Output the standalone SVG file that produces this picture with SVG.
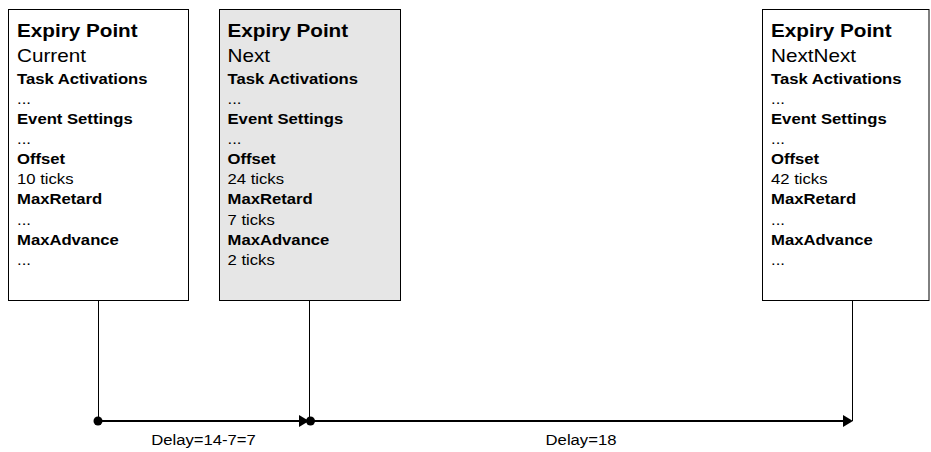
<svg xmlns="http://www.w3.org/2000/svg" width="931" height="452" viewBox="0 0 931 452">
  <style>
    .box { stroke: #000; stroke-width: 1; }
    .title { font-family: "Liberation Sans", Arial, sans-serif; font-size: 18px; font-weight: bold; fill: #000; }
    .name { font-family: "Liberation Sans", Arial, sans-serif; font-size: 18px; fill: #000; }
    .label { font-family: "Liberation Sans", Arial, sans-serif; font-size: 14.5px; font-weight: bold; fill: #000; }
    .value { font-family: "Liberation Sans", Arial, sans-serif; font-size: 14.5px; fill: #000; }
    .wire { stroke: #000; stroke-width: 1; fill: none; }
    .axis { stroke: #000; stroke-width: 2; fill: none; }
    .dot { fill: #000; }
  </style>
  <defs>
    <marker id="arrow" markerUnits="userSpaceOnUse" markerWidth="10" markerHeight="12" refX="8" refY="6" orient="auto">
      <path d="M0,0 L10,6 L0,12 z" fill="#000"/>
    </marker>
  </defs>

  <rect width="931" height="452" fill="#fff"/>

  <!-- expiry point: current -->
  <g id="ep-current">
    <rect class="box" x="8.5" y="9.5" width="180" height="291" fill="#fff"/>
    <g transform="translate(17,0) scale(1.15,1)">
      <text class="title" x="0" y="37">Expiry Point</text>
      <text class="name" x="0" y="62">Current</text>
      <text class="label" x="0" y="84">Task Activations</text>
      <text class="value" x="0" y="104">...</text>
      <text class="label" x="0" y="124">Event Settings</text>
      <text class="value" x="0" y="144.5">...</text>
      <text class="label" x="0" y="164.5">Offset</text>
      <text class="value" x="0" y="184.5">10 ticks</text>
      <text class="label" x="0" y="204.5">MaxRetard</text>
      <text class="value" x="0" y="225">...</text>
      <text class="label" x="0" y="245.5">MaxAdvance</text>
      <text class="value" x="0" y="265.5">...</text>
    </g>
  </g>

  <!-- expiry point: next (highlighted) -->
  <g id="ep-next">
    <rect class="box" x="219.5" y="9.5" width="181" height="291" fill="#e6e6e6"/>
    <g transform="translate(227.5,0) scale(1.15,1)">
      <text class="title" x="0" y="37">Expiry Point</text>
      <text class="name" x="0" y="62">Next</text>
      <text class="label" x="0" y="84">Task Activations</text>
      <text class="value" x="0" y="104">...</text>
      <text class="label" x="0" y="124">Event Settings</text>
      <text class="value" x="0" y="144.5">...</text>
      <text class="label" x="0" y="164.5">Offset</text>
      <text class="value" x="0" y="184.5">24 ticks</text>
      <text class="label" x="0" y="204.5">MaxRetard</text>
      <text class="value" x="0" y="225">7 ticks</text>
      <text class="label" x="0" y="245.5">MaxAdvance</text>
      <text class="value" x="0" y="265.5">2 ticks</text>
    </g>
  </g>

  <!-- expiry point: next-next -->
  <g id="ep-nextnext">
    <rect class="box" x="762.5" y="9.5" width="166.5" height="291" fill="#fff"/>
    <g transform="translate(771,0) scale(1.15,1)">
      <text class="title" x="0" y="37">Expiry Point</text>
      <text class="name" x="0" y="62">NextNext</text>
      <text class="label" x="0" y="84">Task Activations</text>
      <text class="value" x="0" y="104">...</text>
      <text class="label" x="0" y="124">Event Settings</text>
      <text class="value" x="0" y="144.5">...</text>
      <text class="label" x="0" y="164.5">Offset</text>
      <text class="value" x="0" y="184.5">42 ticks</text>
      <text class="label" x="0" y="204.5">MaxRetard</text>
      <text class="value" x="0" y="225">...</text>
      <text class="label" x="0" y="245.5">MaxAdvance</text>
      <text class="value" x="0" y="265.5">...</text>
    </g>
  </g>

  <!-- timeline connectors -->
  <g id="connectors">
    <line class="wire" x1="98.5" y1="300.5" x2="98.5" y2="421"/>
    <line class="wire" x1="309.5" y1="300.5" x2="309.5" y2="421"/>
    <line class="wire" x1="852.5" y1="300.5" x2="852.5" y2="421"/>
    <line class="axis" x1="98" y1="421" x2="307" y2="421" marker-end="url(#arrow)"/>
    <line class="axis" x1="310" y1="421" x2="851" y2="421" marker-end="url(#arrow)"/>
    <circle class="dot" cx="98" cy="421" r="4.5"/>
    <circle class="dot" cx="310.5" cy="421" r="4.5"/>
    <g transform="translate(203.5,0) scale(1.15,1)">
      <text class="value" x="0" y="445" text-anchor="middle">Delay=14-7=7</text>
    </g>
    <g transform="translate(581,0) scale(1.15,1)">
      <text class="value" x="0" y="445" text-anchor="middle">Delay=18</text>
    </g>
  </g>
</svg>
